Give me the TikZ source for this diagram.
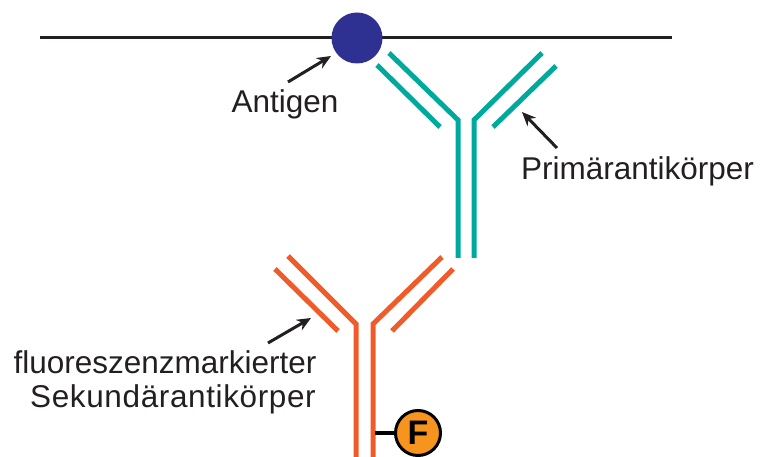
\documentclass[tikz,border=0pt]{standalone}
\usepackage{fontspec}
\setmainfont{Liberation Sans}
\usetikzlibrary{arrows.meta}
\definecolor{membrane}{HTML}{231F20}
\definecolor{antigenblue}{HTML}{2E3192}
\definecolor{primteal}{HTML}{00A99D}
\definecolor{secorange}{HTML}{F15A29}
\definecolor{fluorfill}{HTML}{F7941D}
\definecolor{labeltext}{HTML}{231F20}
\begin{document}
\begin{tikzpicture}[x=1pt,y=-1pt,
  arm/.style={line width=5pt},
  primary/.style={arm,draw=primteal},
  secondary/.style={arm,draw=secorange},
  pointer/.style={draw=labeltext,line width=3pt,-{Stealth[length=14pt,width=12pt]}},
  label/.style={inner sep=0pt,text=labeltext,font=\fontsize{31.5}{36}\selectfont}]
\useasboundingbox (0,0) rectangle (766,457);

% cell membrane and bound antigen
\draw[membrane,line width=3pt] (40,38) -- (672,38);
\node[circle,fill=antigenblue,minimum size=51pt,inner sep=0pt] (antigen) at (357,38) {};

% primary antibody (teal)
\draw[primary] (389,53) -- (458,120) -- (458,258);
\draw[primary] (377,65) -- (440,127);
\draw[primary] (542,53) -- (474,120) -- (474,258);
\draw[primary] (556,66) -- (493,127);

% fluorescence-labelled secondary antibody (orange)
\draw[secondary] (288,256) -- (356,324) -- (356,457);
\draw[secondary] (275,269) -- (338,331);
\draw[secondary] (442,257) -- (373,324) -- (373,457);
\draw[secondary] (453,269) -- (392,331);

% fluorophore
\node[circle,draw=black,line width=3pt,fill=fluorfill,minimum size=45pt,inner sep=0pt,
      font=\fontsize{34}{36}\selectfont\bfseries] (fluor) at (418,433) {F};
\coordinate (stem) at (375,433);
\draw[black,line width=4pt] (stem) -- (fluor.west);

% labels
\node[label,anchor=base] (lblantigen) at (285,113) {Antigen};
\node[label,anchor=base west] (lblprim) at (521,180) {Primärantikörper};
\node[label,anchor=base] (lblsec1) at (165,373) {fluoreszenzmarkierter};
\node[label,anchor=base] (lblsec2) at (173,407) {\addfontfeatures{LetterSpace=2}Sekundärantikörper};

% pointer arrows
\coordinate (pa0) at (288,82);
\coordinate (pa1) at (331,56);
\coordinate (pp0) at (557,148);
\coordinate (pp1) at (522,112);
\coordinate (ps0) at (268,343);
\coordinate (ps1) at (311,318);
\draw[pointer] (pa0) -- (pa1);
\draw[pointer] (pp0) -- (pp1);
\draw[pointer] (ps0) -- (ps1);
\end{tikzpicture}
\end{document}
